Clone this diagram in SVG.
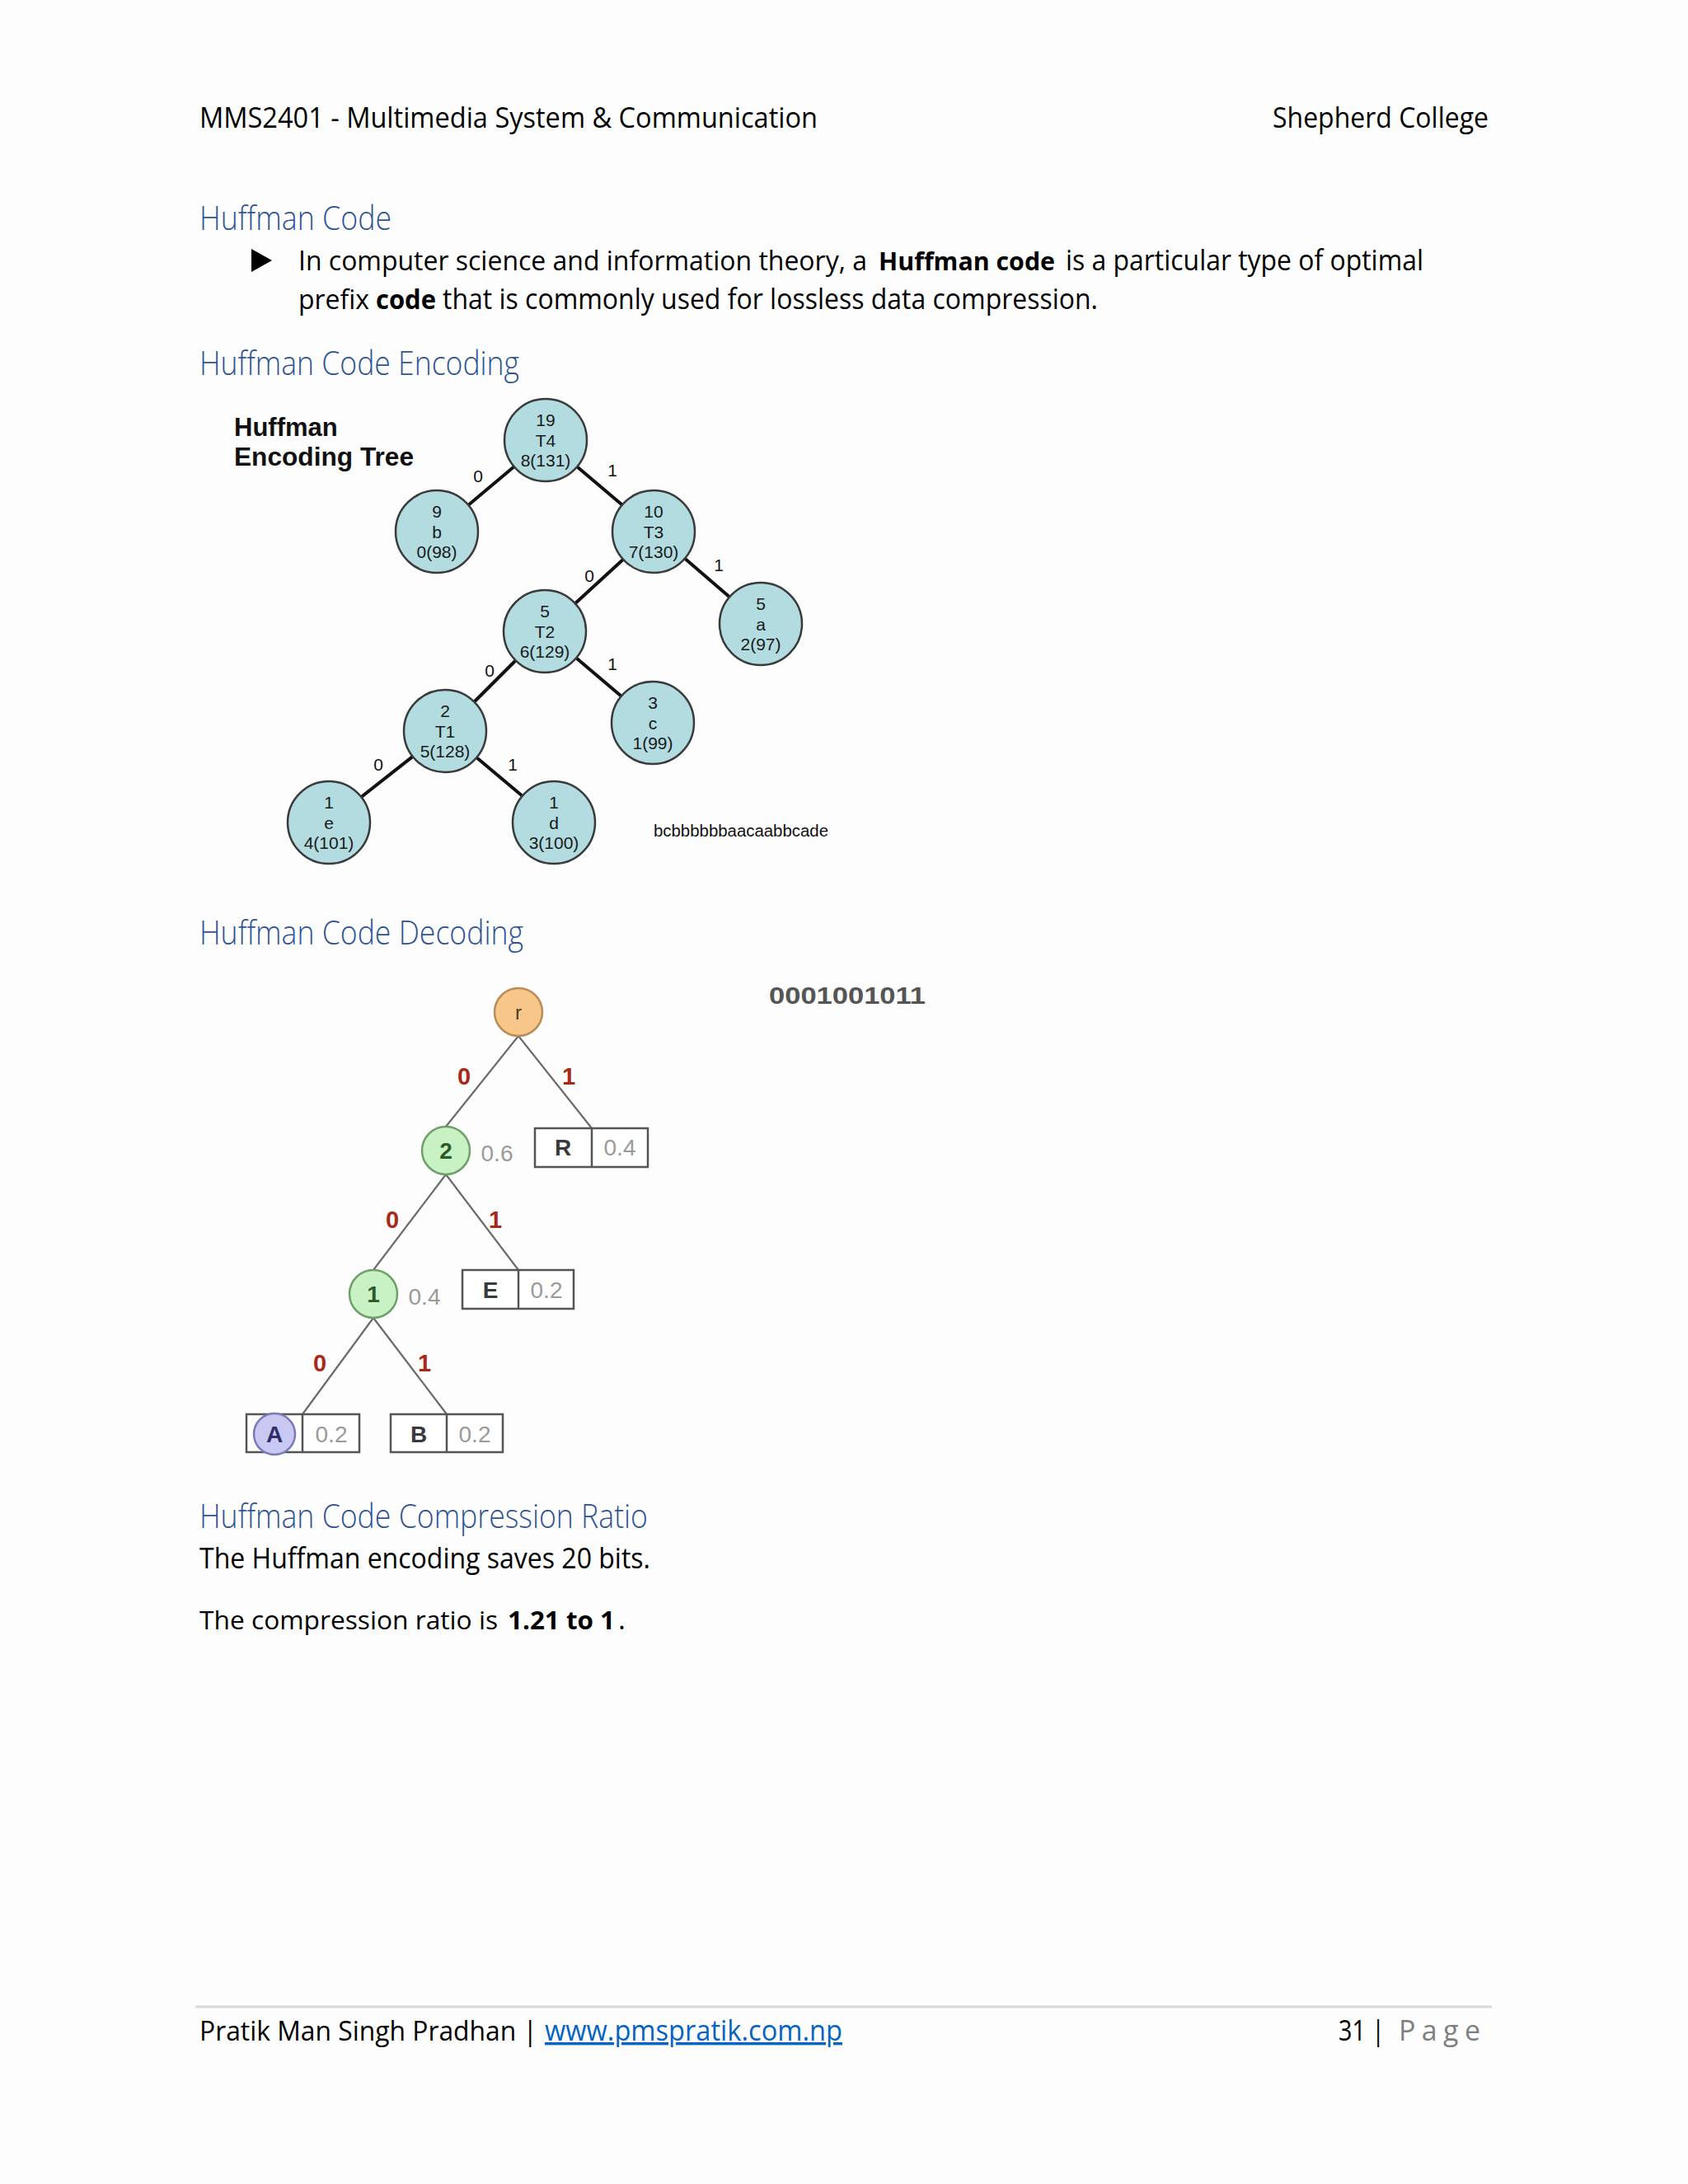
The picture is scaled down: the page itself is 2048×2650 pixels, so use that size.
<svg xmlns="http://www.w3.org/2000/svg" width="2048" height="2650" viewBox="0 0 2048 2650">
<style>
.pg{font-family:"Open Sans","Noto Sans",sans-serif;fill:#000;font-size:34px}
.hd{font-family:"Open Sans","Noto Sans",sans-serif;fill:#2F5496;font-size:40px;font-weight:300}
.b{font-weight:bold}
.enode{fill:#B2DCE0;stroke:#3A3A3A;stroke-width:2.5}
.etxt{font-family:"Liberation Sans",Arial,sans-serif;font-size:21px;fill:#1A1A1A;text-anchor:middle}
.eedge{stroke:#111;stroke-width:4;fill:none}
.elbl{font-family:"Liberation Sans",Arial,sans-serif;font-size:21px;fill:#111;text-anchor:middle}
.dedge{stroke:#6A6A6A;stroke-width:2.2;fill:none}
.dlbl{font-family:"Liberation Sans",Arial,sans-serif;font-size:29px;font-weight:bold;fill:#A8281A;text-anchor:middle}
.box{fill:#fff;stroke:#555;stroke-width:2.5}
.sym{font-family:"Liberation Sans",Arial,sans-serif;font-size:28px;font-weight:bold;fill:#3A3A3A;text-anchor:middle}
.prob{font-family:"Liberation Sans",Arial,sans-serif;font-size:28px;fill:#9A9A9A;text-anchor:middle}
</style>
<rect x="0" y="0" width="2048" height="2650" fill="#FDFDFE"/>

<!-- header -->
<text class="pg" x="242" y="155" textLength="750" lengthAdjust="spacingAndGlyphs">MMS2401 - Multimedia System &amp; Communication</text>
<text class="pg" x="1544" y="155" textLength="262" lengthAdjust="spacingAndGlyphs">Shepherd College</text>

<text class="hd" x="242" y="279" textLength="233" lengthAdjust="spacingAndGlyphs">Huffman Code</text>
<polygon points="305,302 330,316 305,330" fill="#000"/>
<text class="pg" x="362" y="328" font-size="32" style="font-size:32px" textLength="690" lengthAdjust="spacingAndGlyphs">In computer science and information theory, a</text>
<text class="pg b" x="1066" y="328" style="font-size:31px" textLength="214" lengthAdjust="spacingAndGlyphs">Huffman code</text>
<text class="pg" x="1293" y="328" textLength="434" lengthAdjust="spacingAndGlyphs">is a particular type of optimal</text>
<text class="pg" x="362" y="375" style="font-size:32px" textLength="86" lengthAdjust="spacingAndGlyphs">prefix</text>
<text class="pg b" x="456" y="375" style="font-size:32px" textLength="73" lengthAdjust="spacingAndGlyphs">code</text>
<text class="pg" x="537" y="375" textLength="795" lengthAdjust="spacingAndGlyphs">that is commonly used for lossless data compression.</text>

<text class="hd" x="242" y="455" textLength="388" lengthAdjust="spacingAndGlyphs">Huffman Code Encoding</text>

<!-- Encoding tree -->
<text x="284" y="529" font-family="'Liberation Sans',Arial,sans-serif" font-size="31" font-weight="bold" fill="#111">Huffman</text>
<text x="284" y="565" font-family="'Liberation Sans',Arial,sans-serif" font-size="31" font-weight="bold" fill="#111" textLength="218" lengthAdjust="spacingAndGlyphs">Encoding Tree</text>

<g id="enc-connectors">
<line class="eedge" x1="662" y1="534" x2="530" y2="645"/>
<line class="eedge" x1="662" y1="534" x2="793" y2="645"/>
<line class="eedge" x1="793" y1="645" x2="923" y2="757"/>
<line class="eedge" x1="793" y1="645" x2="661" y2="766"/>
<line class="eedge" x1="661" y1="766" x2="792" y2="877"/>
<line class="eedge" x1="661" y1="766" x2="540" y2="887"/>
<line class="eedge" x1="540" y1="887" x2="399" y2="998"/>
<line class="eedge" x1="540" y1="887" x2="672" y2="998"/>
<text class="elbl" x="580" y="585">0</text>
<text class="elbl" x="743" y="578">1</text>
<text class="elbl" x="715" y="706">0</text>
<text class="elbl" x="872" y="693">1</text>
<text class="elbl" x="594" y="821">0</text>
<text class="elbl" x="743" y="813">1</text>
<text class="elbl" x="459" y="935">0</text>
<text class="elbl" x="622" y="935">1</text>
</g>

<g id="enc-T4"><circle class="enode" cx="662" cy="534" r="50"/><text class="etxt" x="662" y="517">19</text><text class="etxt" x="662" y="542">T4</text><text class="etxt" x="662" y="566">8(131)</text></g>
<g id="enc-b"><circle class="enode" cx="530" cy="645" r="50"/><text class="etxt" x="530" y="628">9</text><text class="etxt" x="530" y="653">b</text><text class="etxt" x="530" y="677">0(98)</text></g>
<g id="enc-T3"><circle class="enode" cx="793" cy="645" r="50"/><text class="etxt" x="793" y="628">10</text><text class="etxt" x="793" y="653">T3</text><text class="etxt" x="793" y="677">7(130)</text></g>
<g id="enc-a"><circle class="enode" cx="923" cy="757" r="50"/><text class="etxt" x="923" y="740">5</text><text class="etxt" x="923" y="765">a</text><text class="etxt" x="923" y="789">2(97)</text></g>
<g id="enc-T2"><circle class="enode" cx="661" cy="766" r="50"/><text class="etxt" x="661" y="749">5</text><text class="etxt" x="661" y="774">T2</text><text class="etxt" x="661" y="798">6(129)</text></g>
<g id="enc-c"><circle class="enode" cx="792" cy="877" r="50"/><text class="etxt" x="792" y="860">3</text><text class="etxt" x="792" y="885">c</text><text class="etxt" x="792" y="909">1(99)</text></g>
<g id="enc-T1"><circle class="enode" cx="540" cy="887" r="50"/><text class="etxt" x="540" y="870">2</text><text class="etxt" x="540" y="895">T1</text><text class="etxt" x="540" y="919">5(128)</text></g>
<g id="enc-e"><circle class="enode" cx="399" cy="998" r="50"/><text class="etxt" x="399" y="981">1</text><text class="etxt" x="399" y="1006">e</text><text class="etxt" x="399" y="1030">4(101)</text></g>
<g id="enc-d"><circle class="enode" cx="672" cy="998" r="50"/><text class="etxt" x="672" y="981">1</text><text class="etxt" x="672" y="1006">d</text><text class="etxt" x="672" y="1030">3(100)</text></g>

<text x="793" y="1015" font-family="'Liberation Sans',Arial,sans-serif" font-size="20.5" fill="#111" textLength="212" lengthAdjust="spacingAndGlyphs">bcbbbbbbaacaabbcade</text>

<text class="hd" x="242" y="1146" textLength="393" lengthAdjust="spacingAndGlyphs">Huffman Code Decoding</text>

<!-- Decoding tree -->
<text x="933" y="1218" font-family="'Liberation Sans',Arial,sans-serif" font-size="29" font-weight="bold" fill="#555" textLength="190" lengthAdjust="spacingAndGlyphs">0001001011</text>

<g id="dec-connectors">
<line class="dedge" x1="629" y1="1257" x2="541" y2="1367"/>
<line class="dedge" x1="629" y1="1257" x2="718" y2="1369"/>
<line class="dedge" x1="541" y1="1425" x2="453" y2="1541"/>
<line class="dedge" x1="541" y1="1425" x2="629" y2="1541"/>
<line class="dedge" x1="453" y1="1599" x2="367" y2="1716"/>
<line class="dedge" x1="453" y1="1599" x2="542" y2="1716"/>
<text class="dlbl" x="563" y="1316">0</text>
<text class="dlbl" x="690" y="1316">1</text>
<text class="dlbl" x="476" y="1490">0</text>
<text class="dlbl" x="601" y="1490">1</text>
<text class="dlbl" x="388" y="1664">0</text>
<text class="dlbl" x="515" y="1664">1</text>
</g>

<g id="dec-r"><circle cx="629" cy="1228" r="29" fill="#F9C68A" stroke="#B88E58" stroke-width="2.5"/><text x="629" y="1237" font-family="'Liberation Sans',Arial,sans-serif" font-size="24" fill="#4A3A20" text-anchor="middle">r</text></g>
<g id="dec-2"><circle cx="541" cy="1396" r="29" fill="#C9F2C4" stroke="#6FA06A" stroke-width="2.5"/><text x="541" y="1406" font-family="'Liberation Sans',Arial,sans-serif" font-size="28" font-weight="bold" fill="#2C5A2A" text-anchor="middle">2</text><text class="prob" x="603" y="1409">0.6</text></g>
<g id="dec-R"><rect class="box" x="649" y="1369" width="137" height="47"/><line x1="718" y1="1369" x2="718" y2="1416" stroke="#555" stroke-width="2.5"/><text class="sym" x="683" y="1402">R</text><text class="prob" x="752" y="1402">0.4</text></g>
<g id="dec-1"><circle cx="453" cy="1570" r="29" fill="#C9F2C4" stroke="#6FA06A" stroke-width="2.5"/><text x="453" y="1580" font-family="'Liberation Sans',Arial,sans-serif" font-size="28" font-weight="bold" fill="#2C5A2A" text-anchor="middle">1</text><text class="prob" x="515" y="1583">0.4</text></g>
<g id="dec-E"><rect class="box" x="561" y="1541" width="135" height="47"/><line x1="629" y1="1541" x2="629" y2="1588" stroke="#555" stroke-width="2.5"/><text class="sym" x="595" y="1575">E</text><text class="prob" x="663" y="1575">0.2</text></g>
<g id="dec-A"><rect class="box" x="299" y="1716" width="137" height="46"/><line x1="367" y1="1716" x2="367" y2="1762" stroke="#555" stroke-width="2.5"/><circle cx="333" cy="1740" r="25" fill="#C8C8F2" stroke="#7A7AB8" stroke-width="2.5"/><text x="333" y="1750" font-family="'Liberation Sans',Arial,sans-serif" font-size="28" font-weight="bold" fill="#2E2E6A" text-anchor="middle">A</text><text class="prob" x="402" y="1750">0.2</text></g>
<g id="dec-B"><rect class="box" x="474" y="1716" width="136" height="46"/><line x1="542" y1="1716" x2="542" y2="1762" stroke="#555" stroke-width="2.5"/><text class="sym" x="508" y="1750">B</text><text class="prob" x="576" y="1750">0.2</text></g>

<text class="hd" x="242" y="1854" textLength="544" lengthAdjust="spacingAndGlyphs">Huffman Code Compression Ratio</text>
<text class="pg" x="242" y="1903" textLength="547" lengthAdjust="spacingAndGlyphs">The Huffman encoding saves 20 bits.</text>
<text class="pg" x="242" y="1977" style="font-size:31.5px" textLength="362" lengthAdjust="spacingAndGlyphs">The compression ratio is</text>
<text class="pg b" x="616" y="1977" style="font-size:31px" textLength="130" lengthAdjust="spacingAndGlyphs">1.21 to 1</text>
<text class="pg" x="750" y="1977">.</text>

<!-- footer -->
<line x1="237" y1="2435" x2="1810" y2="2435" stroke="#D9D9D9" stroke-width="3"/>
<text class="pg" x="242" y="2476" style="font-size:32px" textLength="410" lengthAdjust="spacingAndGlyphs">Pratik Man Singh Pradhan |</text>
<text class="pg" x="661" y="2476" textLength="361" lengthAdjust="spacingAndGlyphs" style="fill:#0563C1" text-decoration="underline">www.pmspratik.com.np</text>
<text class="pg" x="1624" y="2476" textLength="56" lengthAdjust="spacingAndGlyphs">31 |</text>
<text class="pg" x="1697" y="2476" textLength="99" lengthAdjust="spacing" style="fill:#7F7F7F">P a g e</text>
</svg>
